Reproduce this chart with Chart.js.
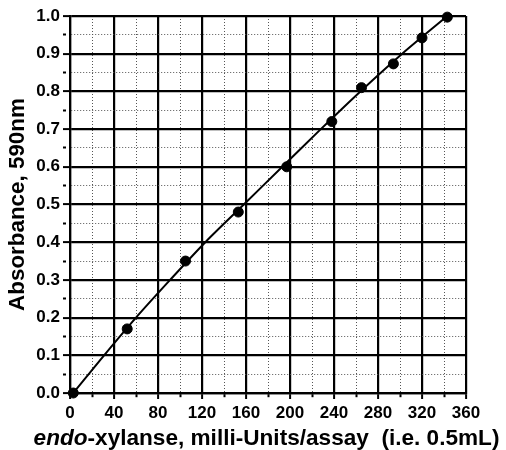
<!DOCTYPE html>
<html>
<head>
<meta charset="utf-8">
<script src="https://cdn.jsdelivr.net/npm/chart.js@4.4.1/dist/chart.umd.min.js"></script>
<style>
  html, body { margin: 0; padding: 0; background: #fff; }
</style>
</head>
<body>
<canvas id="chart" width="506" height="450"></canvas>
<script>
// measured standards: enzyme (milli-Units/assay) vs absorbance at 590nm
const enzymeUnits = [3, 52, 105, 153, 197, 238, 265, 294, 320, 343];
const absorbance = [0.0, 0.17, 0.35, 0.48, 0.60, 0.72, 0.81, 0.873, 0.942, 0.997];

// fitted standard curve, read where it crosses the horizontal gridlines
const curveUnits = [3, 31, 60, 91, 123, 158, 193, 228, 264, 302, 343];
const curveAbs = [0.0, 0.1, 0.2, 0.3, 0.4, 0.5, 0.6, 0.7, 0.8, 0.9, 1.0];

// tick labels
const xTickLabels = ['0', '40', '80', '120', '160', '200', '240', '280', '320', '360'];
const yTickLabels = ['0.0', '0.1', '0.2', '0.3', '0.4', '0.5', '0.6', '0.7', '0.8', '0.9', '1.0'];

const FONT = "'Liberation Sans', Arial, sans-serif";

const xIsMajor = v => Math.round(v) % 40 === 0;
const yIsMajor = v => Math.round(v * 20) % 2 === 0;

// draws the x-axis title with the italic "endo" prefix
const xTitlePlugin = {
    id: 'xTitle',
    afterDraw(chart) {
        const ctx = chart.ctx;
        const part1 = 'endo';
        const part2 = '-xylanse, milli-Units/assay  (i.e. 0.5mL)';
        ctx.save();
        ctx.fillStyle = '#000';
        ctx.textBaseline = 'alphabetic';
        ctx.font = `italic bold 22.6px ${FONT}`;
        const w1 = ctx.measureText(part1).width;
        ctx.font = `bold 22.6px ${FONT}`;
        const w2 = ctx.measureText(part2).width;
        const x = 266.5 - (w1 + w2) / 2;
        const y = 445;
        ctx.font = `italic bold 22.6px ${FONT}`;
        ctx.fillText(part1, x, y);
        ctx.font = `bold 22.6px ${FONT}`;
        ctx.fillText(part2, x + w1, y);
        ctx.restore();
    }
};

const ctx = document.getElementById('chart').getContext('2d');

new Chart(ctx, {
    type: 'scatter',
    data: {
        datasets: [
            {
                label: 'Standard curve',
                data: curveUnits.map((x, i) => ({ x: x, y: curveAbs[i] })),
                showLine: true,
                borderColor: '#000',
                borderWidth: 2,
                pointRadius: 0,
                tension: 0.3,
                clip: false
            },
            {
                label: 'Standards',
                data: enzymeUnits.map((x, i) => ({ x: x, y: absorbance[i] })),
                showLine: false,
                backgroundColor: '#000',
                borderColor: '#000',
                pointRadius: 5,
                clip: false
            }
        ]
    },
    options: {
        responsive: false,
        animation: false,
        layout: { padding: { top: 16, right: 40, left: 0, bottom: 0 } },
        plugins: {
            legend: { display: false },
            tooltip: { enabled: false }
        },
        scales: {
            x: {
                type: 'linear',
                min: 0,
                max: 360,
                afterFit: scale => { scale.height = 57; },
                ticks: {
                    stepSize: 20,
                    autoSkip: false,
                    maxRotation: 0,
                    padding: 4,
                    color: '#000',
                    font: { family: FONT, size: 17, weight: 'bold' },
                    callback: v => xIsMajor(v) ? xTickLabels[Math.round(v) / 40] : ''
                },
                grid: {
                    color: c => xIsMajor(c.tick.value) ? '#000' : '#555',
                    lineWidth: c => xIsMajor(c.tick.value) ? 2.2 : 1,
                    tickColor: '#000',
                    tickWidth: 2,
                    tickLength: 6,
                    tickBorderDash: c => xIsMajor(c.tick.value) ? [] : [3, 20]
                },
                border: {
                    color: '#000',
                    width: 2.2,
                    dash: c => (c.tick && !xIsMajor(c.tick.value)) ? [1, 2] : []
                }
            },
            y: {
                type: 'linear',
                min: 0,
                max: 1.0,
                afterFit: scale => { scale.width = 70; },
                ticks: {
                    stepSize: 0.05,
                    autoSkip: false,
                    padding: 3,
                    color: '#000',
                    font: { family: FONT, size: 17, weight: 'bold' },
                    callback: v => yIsMajor(v) ? yTickLabels[Math.round(v * 10)] : ''
                },
                grid: {
                    color: c => yIsMajor(c.tick.value) ? '#000' : '#555',
                    lineWidth: c => yIsMajor(c.tick.value) ? 2.2 : 1,
                    tickColor: '#000',
                    tickWidth: 2,
                    tickLength: 7,
                    tickBorderDash: c => yIsMajor(c.tick.value) ? [] : [3, 20]
                },
                border: {
                    color: '#000',
                    width: 2.2,
                    dash: c => (c.tick && !yIsMajor(c.tick.value)) ? [1, 2] : []
                },
                title: {
                    display: true,
                    text: 'Absorbance, 590nm',
                    color: '#000',
                    font: { family: FONT, size: 22.4, weight: 'bold' },
                    padding: { top: 4, bottom: 0 }
                }
            }
        }
    },
    plugins: [xTitlePlugin]
});
</script>
</body>
</html>
